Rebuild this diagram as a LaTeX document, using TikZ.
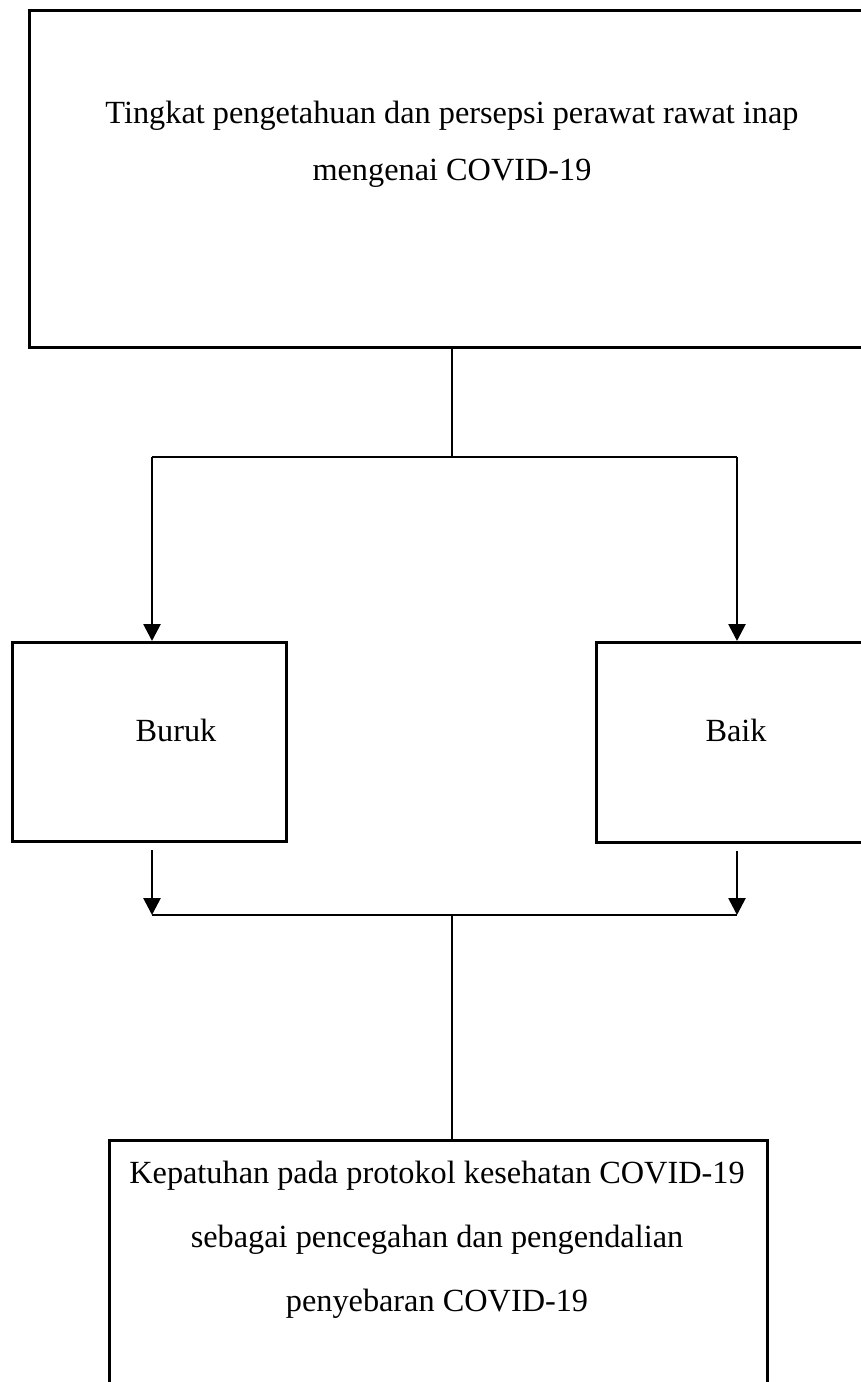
\documentclass[tikz,border=0pt]{standalone}
\usepackage{fontspec}
\setmainfont{Liberation Serif}
\usetikzlibrary{arrows.meta}
\begin{document}
\begin{tikzpicture}[x=1pt,y=-1pt,
  box/.style={draw, line width=2.9pt, rectangle, inner sep=0pt, anchor=north west},
  conn/.style={line width=2.7pt},
  thinconn/.style={line width=1.5pt},
  arr/.style={conn, -{Triangle[width=17pt,length=17pt]}},
  lbl/.style={font=\fontsize{32.3}{57}\selectfont, align=center, inner sep=0pt}]
\useasboundingbox (0,0) rectangle (861,1382);
\clip (0,0) rectangle (861,1382);
% boxes
\node[box, minimum width=850pt, minimum height=337pt] (top) at (28,9) {};
\node[box, minimum width=274pt, minimum height=199pt] (buruk) at (11,641) {};
\node[box, minimum width=280pt, minimum height=200pt] (baik) at (595,641) {};
\node[box, minimum width=658pt, minimum height=300pt] (bottom) at (108,1139) {};
% labels
\node[lbl] (toptext) at (452,144) {Tingkat pengetahuan dan persepsi perawat rawat inap\\mengenai COVID-19};
\node[lbl] (buruktext) at (176,730) {Buruk};
\node[lbl] (baiktext) at (736,730) {Baik};
\node[lbl, font=\fontsize{32.3}{64}\selectfont] (bottomtext) at (437,1240) {Kepatuhan pada protokol kesehatan COVID-19\\sebagai pencegahan dan pengendalian\\penyebaran COVID-19};
% connector points
\coordinate (s) at (452,457);
\coordinate (sl) at (152,457);
\coordinate (sr) at (737,457);
\coordinate (j) at (452,915);
\coordinate (jl) at (152,915);
\coordinate (jr) at (737,915);
% connectors
\draw[conn] (top.south -| s) -- (s);
\draw[conn] (sl) -- (sr);
\draw[arr] (sl) -- (buruk.north -| sl);
\draw[arr] (sr) -- (baik.north -| sr);
\draw[arr, shorten <=7pt] (buruk.south -| jl) -- (jl);
\draw[arr, shorten <=7pt] (baik.south -| jr) -- (jr);
\draw[thinconn] (jl) -- (jr);
\draw[conn] (j) -- (bottom.north -| j);
\end{tikzpicture}
\end{document}
